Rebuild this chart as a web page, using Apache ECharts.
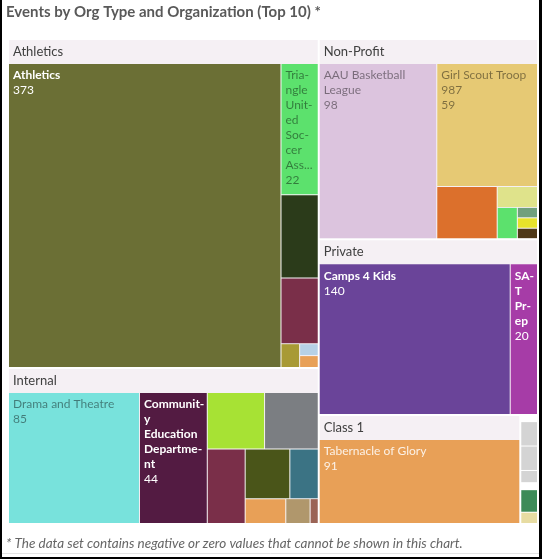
<!DOCTYPE html>
<html>
<head>
<meta charset="utf-8">
<title>Events by Org Type and Organization</title>
<script src="https://cdn.jsdelivr.net/npm/echarts@6/dist/echarts.min.js"></script>
<style>
  html, body { margin: 0; padding: 0; background: #fff; }
  #frame { width: 542px; height: 559px; box-sizing: border-box;
           border-left: 2px solid #000; border-right: 3px solid #000; border-bottom: 2px solid #000; }
  #chart { width: 100%; height: 100%; }
</style>
</head>
<body>
<div id="frame"><div id="chart"></div></div>
<script>
// events per organization, grouped by org type (names left blank where the tile has no label)
const athleticsOrgs   = ['Athletics', 'Triangle United Soccer Association', '', '', '', '', ''];
const athleticsEvents = [373, 22, 14, 11, 2, 1, 1];
const internalOrgs    = ['Drama and Theatre', 'Community Education Department', '', '', '', '', '', '', '', ''];
const internalEvents  = [85, 44, 16, 15, 14, 11, 7, 5, 3, 1];
const nonProfitOrgs   = ['AAU Basketball League', 'Girl Scout Troop 987', '', '', '', '', '', ''];
const nonProfitEvents = [98, 59, 15, 4, 3, 1, 1, 1];
const privateOrgs     = ['Camps 4 Kids', 'SAT Prep'];
const privateEvents   = [140, 20];
const class1Orgs      = ['Tabernacle of Glory'];
const class1Events    = [91];
const nullOrgs        = ['', '', ''];
const nullEvents      = [2, 2, 1];
const otherOrgs       = ['', ''];
const otherEvents     = [2, 1];

// tile colours, same order as the arrays above
// (echarts stacks the last equal-sized tiles bottom-up, so those colours are listed in that order)
const athleticsColors = ['#6b6f35', '#5ce16d', '#2b3b1a', '#7a2f49', '#a89a35', '#e8a057', '#b7d1e6'];
const internalColors  = ['#78e2dc', '#531b42', '#a7e234', '#7b7e82', '#7a2f49', '#4a5519', '#3b7384', '#e8a057', '#b0976c', '#9b6456'];
const nonProfitColors = ['#dcc4de', '#e6c974', '#dc702c', '#dfe38b', '#5ce16d', '#4f3817', '#e7e22b', '#70a07d'];
const privateColors   = ['#6a4499', '#a63ca7'];
const class1Colors    = ['#e8a057'];
const nullColors      = ['#d4d4d4', '#d4d4d4', '#d4d4d4'];
const otherColors     = ['#3d8b58', '#e7dca2'];

// names as Qlik wraps them inside their tiles
const wrapped = {
  'AAU Basketball League': 'AAU Basketball\nLeague',
  'Girl Scout Troop 987': 'Girl Scout Troop\n987',
  'Triangle United Soccer Association': 'Tria-\nngle\nUnit-\ned\nSoc-\ncer\nAss...',
  'SAT Prep': 'SA-\nT\nPr-\nep',
  'Community Education Department': 'Communit-\ny\nEducation\nDepartme-\nnt'
};

const FONT = 'Lato, "Noto Sans", sans-serif';
const HEADER_BG = '#f5f0f4';

function luminance(hex) {
  const c = [1, 3, 5].map(i => parseInt(hex.substr(i, 2), 16) / 255)
    .map(v => v <= 0.03928 ? v / 12.92 : Math.pow((v + 0.055) / 1.055, 2.4));
  return 0.2126 * c[0] + 0.7152 * c[1] + 0.0722 * c[2];
}

// label colour follows the tile: white on dark, faded dark on light
function leafLabel(hex) {
  const l = luminance(hex);
  const color = l > 0.5 ? 'rgba(0,0,0,0.45)' : (l < 0.3 ? '#ffffff' : 'rgba(255,255,255,0.85)');
  const base = { color: color, fontFamily: FONT, fontSize: 12, lineHeight: 15 };
  return {
    rich: {
      n: Object.assign({}, base, { fontWeight: l < 0.3 ? 'bold' : 'normal' }),
      v: Object.assign({}, base, { fontWeight: 'normal' })
    }
  };
}

function group(name, orgs, events, colors) {
  const small = events.reduce((a, b) => a + b, 0) < 10;
  const node = {
    name: name,
    children: orgs.map((o, i) => ({
      name: o,
      value: events[i],
      itemStyle: { color: colors[i] },
      label: leafLabel(colors[i])
    }))
  };
  if (small) {
    // too small for a header: only a thin blank strip on top
    node.upperLabel = { show: true, height: 6, color: 'rgba(0,0,0,0)' };
    node.itemStyle = { borderColor: '#ffffff' };
  }
  return node;
}

const data = [
  group('Athletics', athleticsOrgs, athleticsEvents, athleticsColors),
  group('Internal', internalOrgs, internalEvents, internalColors),
  group('Non-Profit', nonProfitOrgs, nonProfitEvents, nonProfitColors),
  group('Private', privateOrgs, privateEvents, privateColors),
  group('Class 1', class1Orgs, class1Events, class1Colors),
  group('-', nullOrgs, nullEvents, nullColors),
  group('Other', otherOrgs, otherEvents, otherColors)
];

const chart = echarts.init(document.getElementById('chart'));

chart.setOption({
  animation: false,
  title: [{
    text: 'Events by Org Type and Organization (Top 10) *',
    left: 4, top: 5, padding: 0,
    textStyle: { fontFamily: FONT, fontSize: 15, fontWeight: 'bold', color: '#595959' }
  }, {
    text: '* The data set contains negative or zero values that cannot be shown in this chart.',
    left: 4, top: 537, padding: 0,
    textStyle: { fontFamily: FONT, fontSize: 13.5, fontWeight: 'normal', fontStyle: 'italic', color: '#666666' }
  }],
  graphic: [{
    type: 'line', silent: true,
    shape: { x1: 0, y1: 553.5, x2: 537, y2: 553.5 },
    style: { stroke: '#e4e4e4', lineWidth: 1 }
  }],
  series: [{
    type: 'treemap',
    left: 7, top: 40, right: 2, bottom: 34,
    roam: false,
    nodeClick: false,
    squareRatio: 1,
    breadcrumb: { show: false },
    label: {
      show: true,
      position: 'insideTopLeft',
      padding: [4, 0, 4, 4],
      overflow: 'truncate',
      formatter: p => p.value < 20 ? '' : '{n|' + (wrapped[p.name] || p.name) + '}\n{v|' + p.value + '}'
    },
    upperLabel: { show: false },
    levels: [
      { itemStyle: { borderWidth: 0, gapWidth: 2, borderColor: '#ffffff' }, upperLabel: { show: false } },
      {
        itemStyle: { borderWidth: 0, gapWidth: 1, borderColor: HEADER_BG },
        upperLabel: {
          show: true, height: 24, formatter: '{b}',
          color: '#404040', fontFamily: FONT, fontSize: 13, padding: [0, 4]
        }
      },
      { itemStyle: { borderWidth: 0, gapWidth: 0 } }
    ],
    data: data
  }]
});
</script>
</body>
</html>
